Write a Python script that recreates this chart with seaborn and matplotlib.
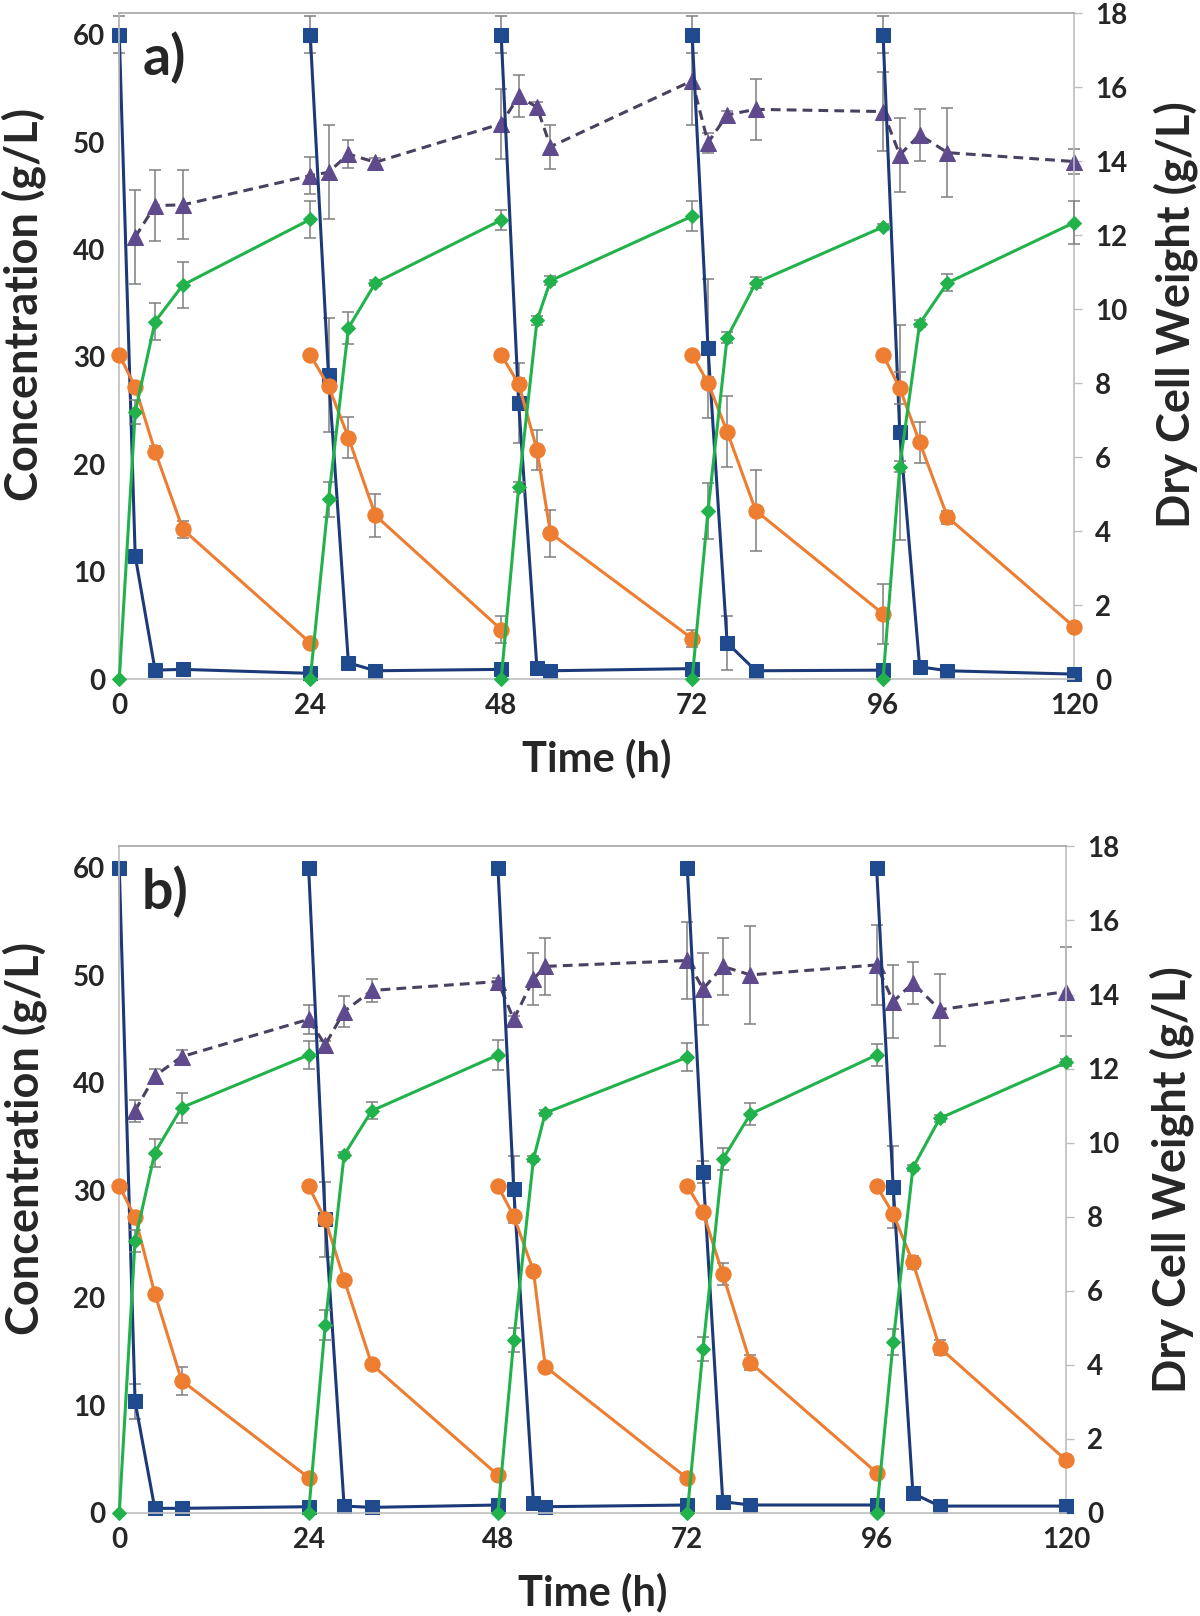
import matplotlib
matplotlib.use("Agg")
import matplotlib.pyplot as plt
import numpy as np
import pandas as pd
import seaborn as sns

sns.set_style("white")
plt.rcParams["font.family"] = ["Lato", "DejaVu Sans"]
plt.rcParams["font.weight"] = "bold"

# ---------------- data (panel a) ----------------
TIME_A = [[0, 2, 4.5, 8, 24], [24, 26.3, 28.8, 32.2, 48], [48, 50.2, 52.5, 54.2, 72],
          [72, 74, 76.4, 80, 96], [96, 98.1, 100.6, 104.1, 120]]
SUBSTRATE_A = [[60, 11.5, 0.86, 0.93, 0.56], [60, 28.3, 1.54, 0.8, 0.93], [60, 25.7, 1.02, 0.8, 1.0],
               [60, 30.8, 3.4, 0.8, 0.86], [60, 23.0, 1.17, 0.8, 0.49]]
SUBSTRATE_ERR_A = [[1.7, 0, 0, 0, 0], [1.7, 5.3, 0, 0, 0], [1.7, 3.7, 0, 0, 0],
                   [1.7, 6.5, 2.5, 0, 0], [1.7, 10.0, 0, 0, 0]]
SECOND_A = [[30.2, 27.2, 21.2, 13.95, 3.4], [30.2, 27.3, 22.5, 15.25, 4.64], [30.2, 27.5, 21.35, 13.6, 3.8],
            [30.2, 27.6, 23.05, 15.7, 6.1], [30.2, 27.1, 22.06, 15.1, 4.9]]
SECOND_ERR_A = [[0, 0.3, 0.5, 0.8, 0.3], [0, 0.5, 1.9, 2.0, 1.3], [0.3, 0.5, 1.9, 2.2, 0.8],
                [0, 0.5, 3.3, 3.8, 2.8], [0, 1.5, 1.9, 0.6, 0.3]]
PRODUCT_A = [[0, 24.85, 33.3, 36.7, 42.8], [0, 16.74, 32.7, 36.9, 42.74], [0, 17.9, 33.4, 37.1, 43.1],
             [0, 15.7, 31.8, 36.9, 42.1], [0, 19.8, 33.1, 36.9, 42.5]]
PRODUCT_ERR_A = [[0, 1.1, 1.7, 2.1, 1.7], [0, 1.6, 1.5, 0.3, 0.9], [0, 0.5, 0.4, 0.4, 1.4],
                 [0, 2.6, 0.5, 0.5, 0.3], [0, 0.5, 0.3, 0.8, 2.0]]
DCW_T_A = [2, 4.5, 8, 24, 26.3, 28.8, 32.2, 48, 50.2, 52.5, 54.2, 72, 74, 76.4, 80, 96, 98.1, 100.6, 104.1, 120]
DCW_A = [11.95, 12.8, 12.82, 13.61, 13.7, 14.19, 13.97, 15.01, 15.75, 15.46, 14.39, 16.17, 14.5, 15.25,
         15.4, 15.34, 14.17, 14.71, 14.23, 13.99]
DCW_ERR_A = [1.26, 0.97, 0.93, 0.5, 1.27, 0.38, 0.12, 0.95, 0.57, 0.15, 0.6, 1.2, 0.27, 0.1, 0.83,
             1.06, 1.0, 0.7, 1.2, 0.33]

# ---------------- data (panel b) ----------------
TIME_B = [[0, 2, 4.5, 7.9, 24], [24, 26.1, 28.5, 32, 48], [48, 50, 52.5, 54, 72],
          [72, 74, 76.5, 80, 96], [96, 98.1, 100.6, 104, 120]]
SUBSTRATE_B = [[60, 10.36, 0.41, 0.41, 0.56], [60, 27.3, 0.62, 0.5, 0.72], [60, 30.1, 0.93, 0.56, 0.72],
               [60, 31.7, 1.03, 0.72, 0.72], [60, 30.3, 1.8, 0.62, 0.62]]
SUBSTRATE_ERR_B = [[0, 1.6, 0, 0, 0], [0, 3.5, 0, 0, 0], [0, 3.1, 0, 0, 0],
                   [0, 1.0, 0, 0, 0], [0, 3.8, 0.5, 0, 0]]
SECOND_B = [[30.4, 27.5, 20.4, 12.3, 3.27], [30.4, 27.3, 21.7, 13.8, 3.5], [30.4, 27.6, 22.5, 13.6, 3.2],
            [30.4, 27.95, 22.2, 13.95, 3.73], [30.4, 27.8, 23.3, 15.35, 4.9]]
SECOND_ERR_B = [[0, 0.3, 0.3, 1.3, 0.3], [0, 0.3, 0.3, 0.3, 0.3], [0, 0.3, 0.3, 0.3, 0.3],
                [0, 0.3, 1.0, 0.7, 0.3], [0, 0.3, 0.6, 0.7, 0.5]]
PRODUCT_B = [[0, 25.3, 33.5, 37.7, 42.6], [0, 17.5, 33.3, 37.4, 42.6], [0, 16.06, 32.9, 37.2, 42.4],
             [0, 15.25, 32.9, 37.1, 42.6], [0, 15.9, 32.1, 36.7, 41.9]]
PRODUCT_ERR_B = [[0, 1.0, 1.3, 1.4, 1.3], [0, 1.4, 0.3, 0.8, 1.4], [0, 1.1, 0.3, 0.3, 1.3],
                 [0, 1.1, 1.0, 1.0, 1.0], [0, 1.2, 0.3, 0.3, 0.3]]
DCW_T_B = [2, 4.5, 7.9, 24, 26.1, 28.5, 32, 48, 50, 52.5, 54, 72, 74, 76.5, 80, 96, 98.1, 100.6, 104, 120]
DCW_B = [10.86, 11.8, 12.32, 13.33, 12.64, 13.54, 14.11, 14.35, 13.33, 14.42, 14.76, 14.92, 14.15, 14.76,
         14.53, 14.8, 13.81, 14.31, 13.59, 14.08]
DCW_ERR_B = [0.3, 0.2, 0.18, 0.39, 0.1, 0.42, 0.3, 0.1, 0.1, 0.69, 0.77, 1.04, 0.96, 0.77, 1.33,
             1.07, 0.99, 0.57, 0.97, 1.2]

X_TICKS = [0, 24, 48, 72, 96, 120]
LEFT_TICKS = [0, 10, 20, 30, 40, 50, 60]
RIGHT_TICKS = [0, 2, 4, 6, 8, 10, 12, 14, 16, 18]
PANEL_LABELS = ["a)", "b)"]
X_LABEL = "Time (h)"
LEFT_LABEL = "Concentration (g/L)"
RIGHT_LABEL = "Dry Cell Weight (g/L)"

# ---------------- style ----------------
BLUE_LINE, BLUE_MK = "#1C3A78", "#1F4B8E"
ORANGE = "#ED7D31"
GREEN = "#22B24C"
PURPLE_MK, PURPLE_LINE = "#5E4A8C", "#4A4060"
ERR_C = "#7F7F7F"
SPINE_C = "#BFBFBF"
TICK_FS = 20
YLABEL_FS = 32.5
XLABEL_FS = 30


def to_df(times, vals):
    rows = []
    for c, (ts, vs) in enumerate(zip(times, vals)):
        for t, v in zip(ts, vs):
            rows.append((c, t, v))
    return pd.DataFrame(rows, columns=["cycle", "t", "v"])


def add_err(ax, times, vals, errs, z):
    t = np.ravel(times); v = np.ravel(vals); e = np.ravel(errs)
    m = e > 0
    ax.errorbar(t[m], v[m], yerr=e[m], fmt="none", ecolor=ERR_C, elinewidth=1.1,
                capsize=4, capthick=1.1, zorder=z, clip_on=False)


def draw_panel(ax, times, sub, sub_e, sec, sec_e, prod, prod_e, dt, dcw, dcw_e, label,
               lab_y, rlab_x, rlab_y):
    ax2 = ax.twinx()
    ax2.set_zorder(ax.get_zorder() - 1)
    ax.patch.set_visible(False)

    # DCW on the secondary axis
    add_err(ax2, dt, dcw, dcw_e, 1.5)
    sns.lineplot(x=dt, y=dcw, ax=ax2, color=PURPLE_LINE, linewidth=2.2,
                 linestyle=(0, (3.2, 2.0)), marker="^", markersize=11,
                 markerfacecolor=PURPLE_MK, markeredgecolor=PURPLE_MK,
                 clip_on=False, legend=False, sort=False, zorder=2)

    series = [
        (sub, sub_e, BLUE_LINE, BLUE_MK, "s", 10, 2),
        (sec, sec_e, ORANGE, ORANGE, "o", 11, 3),
        (prod, prod_e, GREEN, GREEN, "D", 7.5, 4),
    ]
    for vals, errs, lc, mc, mk, ms, z in series:
        add_err(ax, times, vals, errs, z - 0.5)
        sns.lineplot(data=to_df(times, vals), x="t", y="v", units="cycle", estimator=None,
                     ax=ax, color=lc, linewidth=2.2, marker=mk, markersize=ms,
                     markerfacecolor=mc, markeredgecolor=mc, clip_on=False,
                     legend=False, sort=False, zorder=z)

    ax.set_xlim(0, 120)
    ax.set_ylim(0, 62)
    ax2.set_ylim(0, 18)
    ax.set_xticks(X_TICKS)
    ax.set_yticks(LEFT_TICKS)
    ax2.set_yticks(RIGHT_TICKS)
    ax.tick_params(axis="both", length=0, labelsize=TICK_FS)
    ax.tick_params(axis="x", pad=10)
    ax.tick_params(axis="y", pad=10)
    ax2.tick_params(axis="y", length=6, width=1, color=SPINE_C, labelsize=TICK_FS, pad=9)
    for lbl in ax.get_xticklabels() + ax.get_yticklabels() + ax2.get_yticklabels():
        lbl.set_fontweight("bold")

    for name, sp in ax.spines.items():
        sp.set_color(SPINE_C if name != "top" else "#A6A6A6")
        sp.set_linewidth(1.2)
    ax.spines["right"].set_visible(False)
    for name, sp in ax2.spines.items():
        sp.set_visible(name == "right")
        sp.set_color(SPINE_C)
        sp.set_linewidth(1.2)

    ax.set_xlabel(X_LABEL, fontsize=XLABEL_FS, fontweight="bold")
    ax.set_ylabel(LEFT_LABEL, fontsize=YLABEL_FS, fontweight="bold")
    ax2.set_ylabel(RIGHT_LABEL, fontsize=YLABEL_FS, fontweight="bold")
    ax.xaxis.label.set_va("center")
    ax.xaxis.set_label_coords(0.5, -0.119)
    ax.yaxis.set_label_coords(-0.100, lab_y)
    ax2.yaxis.set_label_coords(rlab_x, rlab_y)
    ax2.yaxis.label.set_rotation(90)
    ax2.yaxis.label.set_va("center")
    ax.yaxis.label.set_va("center")

    ax.text(0.024, 0.932, label, transform=ax.transAxes, fontsize=40, fontweight="bold",
            ha="left", va="center", zorder=10)


fig = plt.figure(figsize=(12, 16.16), dpi=100)
ax_a = fig.add_axes([0.0994, 0.5796, 0.7956, 0.4123])
ax_b = fig.add_axes([0.0994, 0.0639, 0.7889, 0.4123])

draw_panel(ax_a, TIME_A, SUBSTRATE_A, SUBSTRATE_ERR_A, SECOND_A, SECOND_ERR_A, PRODUCT_A,
           PRODUCT_ERR_A, DCW_T_A, DCW_A, DCW_ERR_A, PANEL_LABELS[0], 0.563, 1.107, 0.547)
draw_panel(ax_b, TIME_B, SUBSTRATE_B, SUBSTRATE_ERR_B, SECOND_B, SECOND_ERR_B, PRODUCT_B,
           PRODUCT_ERR_B, DCW_T_B, DCW_B, DCW_ERR_B, PANEL_LABELS[1], 0.561, 1.112, 0.50)

fig.savefig("out.png", dpi=100, facecolor="white")
